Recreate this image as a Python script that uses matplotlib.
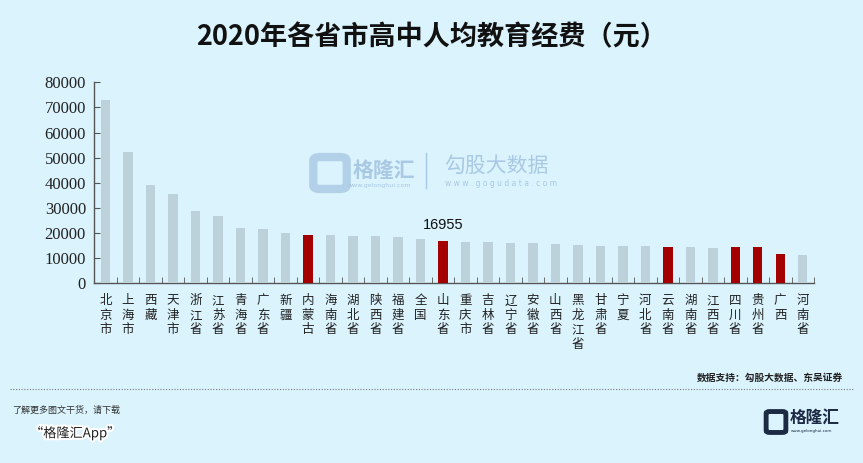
import matplotlib
matplotlib.use("Agg")
import matplotlib.pyplot as plt
from matplotlib.patches import FancyBboxPatch
import matplotlib.patheffects as pe

categories = ["北京市", "上海市", "西藏", "天津市", "浙江省", "江苏省", "青海省", "广东省",
              "新疆", "内蒙古", "海南省", "湖北省", "陕西省", "福建省", "全国", "山东省",
              "重庆市", "吉林省", "辽宁省", "安徽省", "山西省", "黑龙江省", "甘肃省", "宁夏",
              "河北省", "云南省", "湖南省", "江西省", "四川省", "贵州省", "广西", "河南省"]
values = [73000, 52300, 39200, 35600, 28700, 26900, 21900, 21600,
          20000, 19400, 19300, 19000, 18800, 18400, 17600, 16955,
          16300, 16300, 16000, 15900, 15800, 15200, 15000, 15000,
          14700, 14500, 14300, 14200, 14300, 14300, 11700, 11400]
highlight = ["内蒙古", "山东省", "云南省", "四川省", "贵州省", "广西"]
yticks = [0, 10000, 20000, 30000, 40000, 50000, 60000, 70000, 80000]
label_cat = "山东省"
label_text = "16955"

CJK = ["Noto Sans CJK SC", "DejaVu Sans"]
BG = "#daf3fd"
GRAY = "#bcd1d9"
RED = "#a50000"

fig = plt.figure(figsize=(8.63, 4.63), dpi=100)
fig.patch.set_facecolor(BG)
ax = fig.add_axes([94.3 / 863, 1 - 283.3 / 463, (814 - 94.3) / 863, (283.3 - 82.3) / 463])
ax.set_facecolor(BG)

x = list(range(len(categories)))
colors = [RED if c in highlight else GRAY for c in categories]
ax.bar(x, values, width=0.42, color=colors, zorder=3)

ax.set_xlim(-0.5, len(categories) - 0.5)
ax.set_ylim(0, 80000)
ax.set_yticks(yticks)
ax.set_yticklabels([str(v) for v in yticks])
for lab in ax.get_yticklabels():
    lab.set_fontfamily("Liberation Serif")
    lab.set_fontsize(12)
    lab.set_color("#222222")
ax.tick_params(axis="y", direction="in", length=4, color="#555555", pad=6)

# x tick marks at category boundaries
ax.set_xticks([i - 0.5 for i in range(len(categories) + 1)], minor=True)
ax.set_xticks([])
ax.tick_params(axis="x", which="minor", direction="in", length=4, color="#555555")
for s in ["top", "right"]:
    ax.spines[s].set_visible(False)
for s in ["left", "bottom"]:
    ax.spines[s].set_color("#555555")
    ax.spines[s].set_linewidth(1.0)

for i, c in enumerate(categories):
    ax.text(i, -0.055, "\n".join(c), transform=ax.get_xaxis_transform(), ha="center", va="top",
            fontsize=9, family=CJK, color="#222222", linespacing=1.15)

li = categories.index(label_cat)
ax.annotate(label_text, (li, values[li]), xytext=(0, 6), textcoords="offset points",
            ha="center", va="bottom", fontsize=10.5, family="Liberation Sans", color="#111111")

# title
fig.text(0.5, 1 - 37 / 463, "2020年各省市高中人均教育经费（元）", ha="center", va="center",
         fontsize=19.5, fontweight="bold", family=CJK, color="#111111")

# watermark
wm = "#a9c8e3"
fig.text(353 / 863, 1 - 170 / 463, "格隆汇", ha="left", va="center", fontsize=15, family=CJK,
         color=wm, fontweight="bold")
fig.text(348 / 863, 1 - 185 / 463, "www.gelonghui.com", ha="left", va="center", fontsize=4.5,
         family="DejaVu Sans", color=wm)
wmbox = FancyBboxPatch((315 / 863, 1 - 188 / 463), 30 / 863, 30 / 463,
                       boxstyle="round,pad=0.002,rounding_size=0.008", transform=fig.transFigure,
                       facecolor="none", edgecolor=wm, linewidth=6, alpha=0.8)
fig.patches.append(wmbox)
fig.add_artist(plt.Line2D([426 / 863, 426 / 863], [1 - 153 / 463, 1 - 188 / 463], color=wm,
                          linewidth=1, transform=fig.transFigure))
fig.text(444 / 863, 1 - 166 / 463, "勾股大数据", ha="left", va="center", fontsize=15, family=CJK,
         color=wm)
fig.text(445 / 863, 1 - 184 / 463, "w w w . g o g u d a t a . c o m", ha="left", va="center",
         fontsize=5.5, family="DejaVu Sans", color=wm)

# footer
fig.text(843 / 863, 1 - 378 / 463, "数据支持：勾股大数据、东吴证券", ha="right", va="center",
         fontsize=7, family=CJK, color="#222222", fontweight="bold")
fig.add_artist(plt.Line2D([10 / 863, 853 / 863], [1 - 389 / 463, 1 - 389 / 463], color="#777777",
                          linewidth=0.8, linestyle=(0, (1, 1.5)), transform=fig.transFigure))
fig.text(12 / 863, 1 - 410 / 463, "了解更多图文干货，请下载", ha="left", va="center",
         fontsize=6.5, family=CJK, color="#333333", style="italic")
t = fig.text(30 / 863, 1 - 433 / 463, "“格隆汇App”", ha="left", va="center",
             fontsize=9.5, family=CJK, color="#222222", style="italic")
t.set_path_effects([pe.withStroke(linewidth=3, foreground="white")])

logo_box = FancyBboxPatch((767 / 863, 1 - 432 / 463), 18 / 863, 20 / 463,
                          boxstyle="round,pad=0.001,rounding_size=0.004", transform=fig.transFigure,
                          facecolor="none", edgecolor="#1c2a44", linewidth=3.5)
fig.patches.append(logo_box)
fig.text(790 / 863, 1 - 418 / 463, "格隆汇", ha="left", va="center", fontsize=12, family=CJK,
         color="#1c2a44", fontweight="bold")
fig.text(791 / 863, 1 - 431 / 463, "www.gelonghui.com", ha="left", va="center", fontsize=3,
         family="DejaVu Sans", color="#1c2a44")

fig.savefig("out.png", dpi=100, facecolor=BG)
